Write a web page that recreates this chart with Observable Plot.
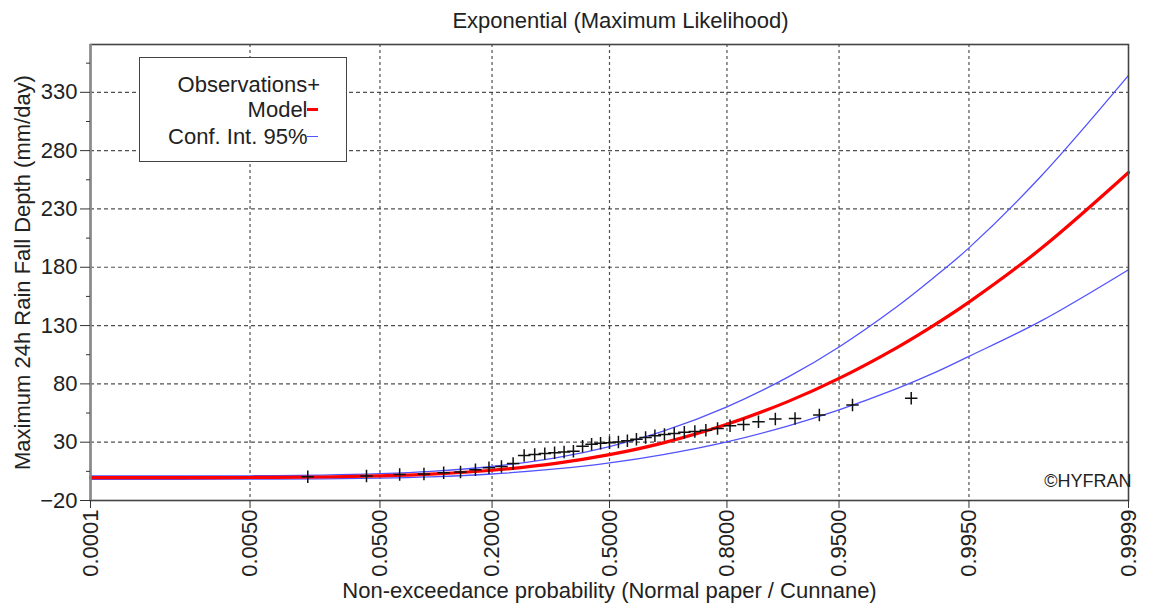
<!DOCTYPE html>
<html><head><meta charset="utf-8">
<script src="https://cdn.jsdelivr.net/npm/d3@7"></script>
<script src="https://cdn.jsdelivr.net/npm/@observablehq/plot@0.6"></script>
<style>
body{margin:0;background:#fff;font-family:"Liberation Sans",Arial,sans-serif;}
#wrap{position:relative;width:1153px;height:608px;}
#legend{position:absolute;left:139px;top:57px;width:208px;height:105px;box-sizing:border-box;border:1.5px solid #444;background:#fff;color:#222;font-size:22px;line-height:22px;}
#legend .row{position:absolute;right:38.5px;white-space:nowrap;}
#legend .sw{position:absolute;}
</style>
</head><body>
<div id="wrap"></div>
<script>
// ---- data ----
const titleText = "Exponential (Maximum Likelihood)";
const xLabel = "Non-exceedance probability (Normal paper / Cunnane)";
const yLabel = "Maximum 24h Rain Fall Depth (mm/day)";
const tickProbs = [0.0001, 0.005, 0.05, 0.2, 0.5, 0.8, 0.95, 0.995, 0.9999];
const tickLabels = ["0.0001", "0.0050", "0.0500", "0.2000", "0.5000", "0.8000", "0.9500", "0.9950", "0.9999"];
const yTicks = [-20, 30, 80, 130, 180, 230, 280, 330];
const yMinor = [5, 55, 105, 155, 205, 255, 305, 355];
// sorted observations (mm/day), plotted at Cunnane positions
const observations = [0.3, 1.1, 2.2, 2.7, 3.7, 4.5, 6.3, 8.0, 9.2, 11.7, 18.5, 19.4, 20.2, 21.0, 21.5, 22.2, 26.5, 28.3, 29.0, 29.6, 30.2, 31.2, 32.6, 34.0, 35.5, 36.6, 37.5, 38.5, 39.2, 40.2, 41.8, 44.0, 45.2, 47.6, 49.8, 50.4, 53.3, 61.9, 67.6];
// fitted model and 95% confidence band, read at these probabilities
const curveProbs = [0.0001, 0.001, 0.005, 0.02, 0.05, 0.1, 0.2, 0.35, 0.5, 0.65, 0.8, 0.9, 0.95, 0.98, 0.99, 0.995, 0.999, 0.9999];
const modelVals = [-0.4, -0.37, -0.26, 0.17, 1.06, 2.59, 5.94, 11.83, 19.28, 29.41, 45.31, 64.99, 84.68, 110.7, 130.4, 150.1, 195.8, 261.2];
const upperVals = [1.0, 1.03, 1.19, 1.77, 2.96, 4.89, 9.14, 16.63, 26.28, 39.41, 60.31, 85.99, 111.68, 145.7, 171.4, 196.6, 257.8, 344.5];
const lowerVals = [-1.8, -1.77, -1.71, -1.43, -0.84, 0.29, 2.74, 7.03, 12.28, 19.41, 30.31, 43.99, 57.68, 75.7, 89.4, 103.6, 133.8, 177.9];

// inverse standard normal CDF (normal probability paper)
function probit(p){
  const a=[-3.969683028665376e+01,2.209460984245205e+02,-2.759285104469687e+02,1.383577518672690e+02,-3.066479806614716e+01,2.506628277459239e+00];
  const b=[-5.447609879822406e+01,1.615858368580409e+02,-1.556989798598866e+02,6.680131188771972e+01,-1.328068155288572e+01];
  const c=[-7.784894002430293e-03,-3.223964580411365e-01,-2.400758277161838e+00,-2.549732539343734e+00,4.374664141464968e+00,2.938163982698783e+00];
  const d=[7.784695709041462e-03,3.224671290700398e-01,2.445134137142996e+00,3.754408661907416e+00];
  const pl=0.02425; let q,r;
  if(p<pl){q=Math.sqrt(-2*Math.log(p));return (((((c[0]*q+c[1])*q+c[2])*q+c[3])*q+c[4])*q+c[5])/((((d[0]*q+d[1])*q+d[2])*q+d[3])*q+1);}
  if(p>1-pl){q=Math.sqrt(-2*Math.log(1-p));return -(((((c[0]*q+c[1])*q+c[2])*q+c[3])*q+c[4])*q+c[5])/((((d[0]*q+d[1])*q+d[2])*q+d[3])*q+1);}
  q=p-0.5;r=q*q;return (((((a[0]*r+a[1])*r+a[2])*r+a[3])*r+a[4])*r+a[5])*q/(((((b[0]*r+b[1])*r+b[2])*r+b[3])*r+b[4])*r+1);
}

const n = observations.length;
const obs = observations.map((v,i)=>({z: probit((i+1-0.4)/(n+0.2)), v}));
const curve = curveProbs.map((p,i)=>({z: probit(p), m: modelVals[i], u: upperVals[i], l: lowerVals[i]}));
const zTicks = tickProbs.map(probit);
const labelOf = new Map(zTicks.map((z,i)=>[z, tickLabels[i]]));

const blue = "#5252ff";
const chart = Plot.plot({
  width: 1153, height: 608,
  marginLeft: 90, marginRight: 25, marginTop: 44, marginBottom: 108,
  style: {fontFamily: "'Liberation Sans', Arial, sans-serif", fontSize: "22px", color: "#222", background: "#fff", overflow: "visible"},
  x: {type: "linear", domain: [zTicks[0], zTicks[zTicks.length-1]], label: null},
  y: {domain: [-20, 371], label: null},
  marks: [
    Plot.gridX(zTicks.slice(1, -1), {stroke: "#333", strokeOpacity: 0.85, strokeDasharray: "3,3", strokeWidth: 1.2}),
    Plot.gridY(yTicks.slice(1), {stroke: "#333", strokeOpacity: 0.85, strokeDasharray: "4,3", strokeWidth: 1.2}),
    Plot.line(curve, {x: "z", y: "u", stroke: blue, strokeWidth: 1.3, curve: "catmull-rom"}),
    Plot.line(curve, {x: "z", y: "l", stroke: blue, strokeWidth: 1.3, curve: "catmull-rom"}),
    Plot.line(curve, {x: "z", y: "m", stroke: "#ff0000", strokeWidth: 3.2, curve: "catmull-rom"}),
    Plot.dot(obs, {x: "z", y: "v", symbol: "plus", r: 4.1, stroke: "#111", fill: "none", strokeWidth: 1.5}),
    Plot.frame({stroke: "#444", strokeWidth: 1.6}),
    Plot.ruleX([zTicks[0]], {stroke: "#8a8a8a", strokeWidth: 2.5}),
    Plot.axisY(yTicks, {tickSize: 10, tickPadding: 3, label: null, stroke: "#333", fill: "#222"}),
    Plot.axisY(yMinor, {tickSize: 4, tickPadding: 0, tickFormat: () => "", label: null, stroke: "#333"}),
    Plot.axisX(zTicks, {tickSize: 8, tickPadding: 1, tickRotate: -90, tickFormat: z => labelOf.get(z), label: null, stroke: "#333", fill: "#222"}),
    Plot.text([titleText], {frameAnchor: "top", dy: -24, dx: 11, lineAnchor: "middle", textAnchor: "middle", fill: "#222"}),
    Plot.text([xLabel], {frameAnchor: "bottom", dy: 90, lineAnchor: "middle", textAnchor: "middle", fill: "#222"}),
    Plot.text([yLabel], {frameAnchor: "left", dx: -68, rotate: -90, lineAnchor: "middle", textAnchor: "middle", fill: "#222"}),
    Plot.text(["©HYFRAN"], {frameAnchor: "bottom-right", dx: 3, dy: -19, textAnchor: "end", lineAnchor: "middle", fontSize: 18, fill: "#222"})
  ]
});
const wrap = document.getElementById("wrap");
wrap.appendChild(chart);

// legend box
const legend = document.createElement("div");
legend.id = "legend";
legend.innerHTML = `
  <div class="row" style="top:16px;right:26px">Observations+</div>
  <div class="row" style="top:41px">Model</div>
  <div class="sw" style="left:167px;top:50px;width:11px;height:3px;background:#ff0000"></div>
  <div class="row" style="top:68px">Conf. Int. 95%</div>
  <div class="sw" style="left:167px;top:78px;width:11px;height:1.3px;background:${blue}"></div>`;
wrap.appendChild(legend);
</script>
</body></html>
